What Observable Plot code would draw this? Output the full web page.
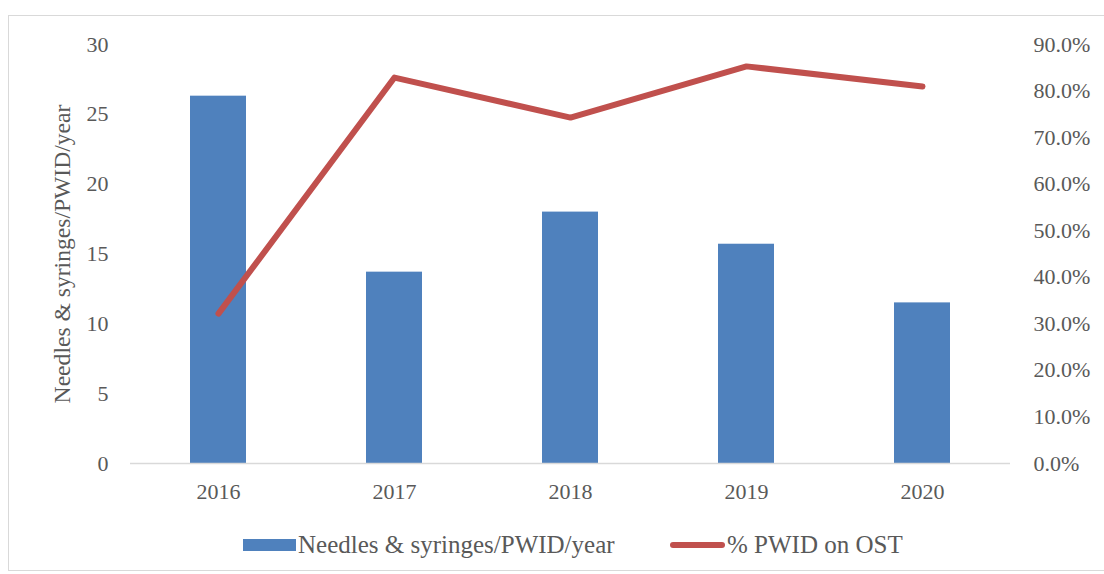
<!DOCTYPE html>
<html>
<head>
<meta charset="utf-8">
<script src="https://cdn.jsdelivr.net/npm/d3@7"></script>
<script src="https://cdn.jsdelivr.net/npm/@observablehq/plot@0.6"></script>
<style>
  html, body { margin: 0; padding: 0; background: #fff; }
  body { width: 1104px; height: 574px; position: relative; overflow: hidden; font-family: "Liberation Serif", "DejaVu Serif", serif; }
  #frame { position: absolute; left: 8px; top: 15px; width: 1100px; height: 556px; border: 1px solid #D9D9D9; box-sizing: border-box; }
  #chart { position: absolute; left: 0; top: 0; }
  #legend { position: absolute; left: 0; top: 528px; width: 1104px; height: 34px; font-size: 25px; color: #595959; }
  .li { position: absolute; top: 0; display: flex; align-items: center; height: 34px; white-space: nowrap; }
  .sw-bar { width: 53px; height: 12px; background: #4F81BD; margin-right: 2px; }
  .sw-line { width: 55px; height: 6px; background: #C0504D; border-radius: 3px; margin-right: 2px; }
  .txt { display: inline-block; transform-origin: left center; }
</style>
</head>
<body>
<div id="frame"></div>
<div id="chart"></div>
<div id="legend">
  <div class="li" style="left:243px"><div class="sw-bar"></div><span class="txt" id="t1">Needles &amp; syringes/PWID/year</span></div>
  <div class="li" style="left:670px"><div class="sw-line"></div><span class="txt" id="t2">% PWID on OST</span></div>
</div>
<script>
const years = ["2016", "2017", "2018", "2019", "2020"];
const needles = [26.3, 13.7, 18.0, 15.7, 11.5];
const pctOST = [32.2, 82.9, 74.3, 85.3, 81.0];
const leftTicks = [0, 5, 10, 15, 20, 25, 30];
const rightTicks = [0, 10, 20, 30, 40, 50, 60, 70, 80, 90];

const barColor = "#4F81BD";
const lineColor = "#C0504D";
const textColor = "#595959";

// right axis maps 0–90% onto left 0–30
const toLeft = p => p * 30 / 90;

const bars = years.map((y, i) => ({ year: y, value: needles[i] }));
const pts = years.map((y, i) => ({ year: y, pct: pctOST[i], v: toLeft(pctOST[i]) }));

const chart = Plot.plot({
  width: 1104,
  height: 520,
  marginLeft: 130,
  marginRight: 94,
  marginTop: 44,
  marginBottom: 57,
  style: { fontFamily: "'Liberation Serif', 'DejaVu Serif', serif", fontSize: "22px", color: textColor, background: "transparent" },
  x: { domain: years, paddingInner: 0.68, paddingOuter: 0.34, label: null },
  y: { domain: [0, 30], label: null },
  marks: [
    Plot.barY(bars, { x: "year", y: "value", fill: barColor }),
    Plot.ruleY([0], { stroke: "#D9D9D9", strokeWidth: 1.5 }),
    Plot.line(pts, { x: "year", y: "v", stroke: lineColor, strokeWidth: 6, strokeLinecap: "round", strokeLinejoin: "round" }),
    Plot.axisX({ tickSize: 0, tickPadding: 20, fontSize: 22, label: null }),
    Plot.axisY({ ticks: leftTicks, tickSize: 0, tickPadding: 22, fontSize: 22, label: null }),
    Plot.axisY({ anchor: "right", ticks: rightTicks.map(toLeft), tickFormat: d => (Math.round(d * 3 * 10) / 10).toFixed(1) + "%", tickSize: 0, tickPadding: 23, fontSize: 22, label: null }),
    Plot.text(["Needles & syringes/PWID/year"], { frameAnchor: "left", dx: -68, rotate: -90, fontSize: 23.6, fill: textColor, textAnchor: "middle" })
  ]
});
document.getElementById("chart").appendChild(chart);
</script>
</body>
</html>
